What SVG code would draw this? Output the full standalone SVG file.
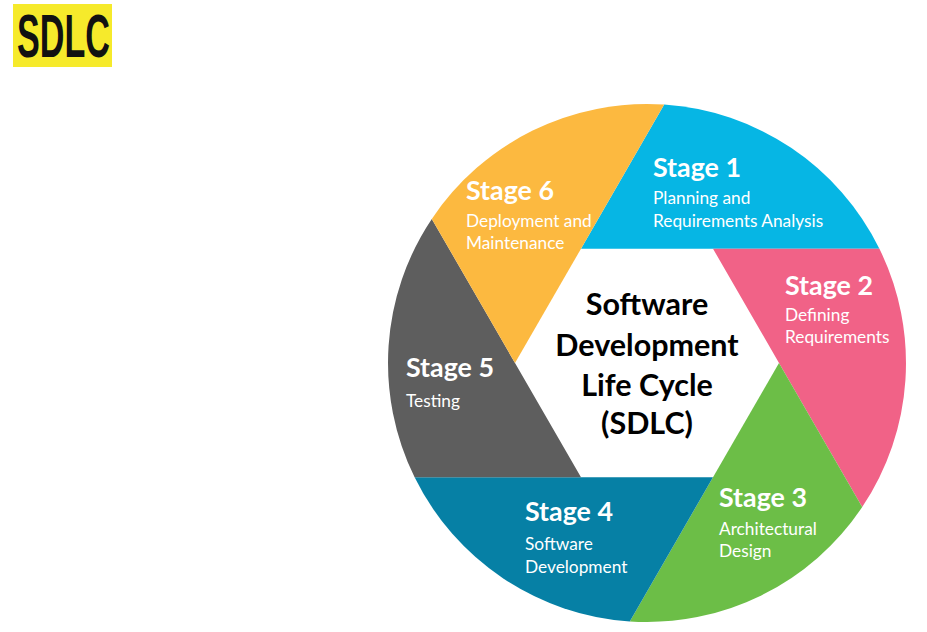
<svg xmlns="http://www.w3.org/2000/svg" width="927" height="632" viewBox="0 0 927 632">
  <style>
    .title { font-family: "Liberation Sans Narrow", "Liberation Sans", Arial, sans-serif; font-weight: bold; font-size: 61px; fill: #111; }
    .stage { font-family: Lato, "Open Sans", "Liberation Sans", sans-serif; font-weight: bold; font-size: 26.8px; fill: #ffffff; }
    .desc { font-family: Lato, "Open Sans", "Liberation Sans", sans-serif; font-size: 17.3px; fill: #ffffff; }
    .core { font-family: Lato, "Open Sans", "Liberation Sans", sans-serif; font-weight: bold; font-size: 30.5px; fill: #000000; text-anchor: middle; }
  </style>

  <rect width="927" height="632" fill="#ffffff"/>

  <!-- heading badge -->
  <g id="heading">
    <rect x="13" y="4" width="99" height="63" fill="#f6ea2b"/>
    <text class="title" x="17" y="57" textLength="93" lengthAdjust="spacingAndGlyphs">SDLC</text>
  </g>

  <!-- pinwheel: each sector is a hexagon edge extended to the outer circle (centre 647,363; r 259) -->
  <g id="stage1">
    <path d="M581 248.7 L664.2 104.6 A259 259 0 0 1 879.4 248.7 L713 248.7 Z" fill="#06b6e4"/>
    <text class="stage" x="653" y="177">Stage 1</text>
    <text class="desc" x="653" y="204">Planning and</text>
    <text class="desc" x="653" y="227">Requirements Analysis</text>
  </g>
  <g id="stage2">
    <path d="M713 248.7 L879.4 248.7 A259 259 0 0 1 862.2 507.1 L779 363 Z" fill="#f16287"/>
    <text class="stage" x="785" y="295">Stage 2</text>
    <text class="desc" x="785" y="321">Defining</text>
    <text class="desc" x="785" y="343">Requirements</text>
  </g>
  <g id="stage3">
    <path d="M779 363 L862.2 507.1 A259 259 0 0 1 629.8 621.4 L713 477.3 Z" fill="#6cbe47"/>
    <text class="stage" x="719" y="507">Stage 3</text>
    <text class="desc" x="719" y="535">Architectural</text>
    <text class="desc" x="719" y="557">Design</text>
  </g>
  <g id="stage4">
    <path d="M713 477.3 L629.8 621.4 A259 259 0 0 1 414.6 477.3 L581 477.3 Z" fill="#0680a5"/>
    <text class="stage" x="525" y="521">Stage 4</text>
    <text class="desc" x="525" y="550">Software</text>
    <text class="desc" x="525" y="573">Development</text>
  </g>
  <g id="stage5">
    <path d="M581 477.3 L414.6 477.3 A259 259 0 0 1 431.8 218.9 L515 363 Z" fill="#5e5e5e"/>
    <text class="stage" x="406" y="377">Stage 5</text>
    <text class="desc" x="406" y="407">Testing</text>
  </g>
  <g id="stage6">
    <path d="M515 363 L431.8 218.9 A259 259 0 0 1 664.2 104.6 L581 248.7 Z" fill="#fcb940"/>
    <text class="stage" x="466" y="200">Stage 6</text>
    <text class="desc" x="466" y="227">Deployment and</text>
    <text class="desc" x="466" y="249">Maintenance</text>
  </g>

  <!-- central hexagon label -->
  <g id="core">
    <text class="core" x="647" y="315">Software</text>
    <text class="core" x="647" y="356">Development</text>
    <text class="core" x="647" y="396">Life Cycle</text>
    <text class="core" x="647" y="434">(SDLC)</text>
  </g>

  <g id="connectors"/>
</svg>
